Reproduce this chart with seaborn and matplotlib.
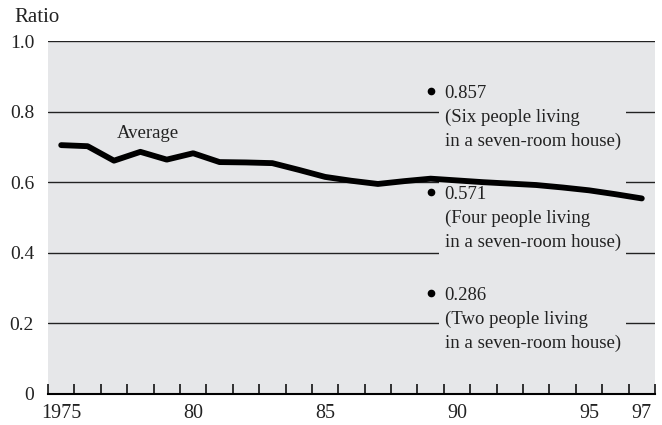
import numpy as np
import pandas as pd
import matplotlib
matplotlib.use("Agg")
import matplotlib.pyplot as plt
import seaborn as sns

# data (value at mid-year)
years = list(range(1975, 1998))
ratio = [0.705, 0.702, 0.661, 0.686, 0.664, 0.682, 0.657, 0.656, 0.654, 0.635,
         0.615, 0.604, 0.595, 0.603, 0.610, 0.605, 0.600, 0.596, 0.592, 0.585,
         0.577, 0.566, 0.554]

tick_years = [1975, 1980, 1985, 1990, 1995, 1997]
tick_labels = ["1975", "80", "85", "90", "95", "97"]

ref_year = 1989
ref_values = [0.857, 0.571, 0.286]
ref_texts = ["0.857\n(Six people living\nin a seven-room house)",
             "0.571\n(Four people living\nin a seven-room house)",
             "0.286\n(Two people living\nin a seven-room house)"]

bg = "#e6e7e9"
txt = "#222222"

sns.set_theme(style="white", rc={"axes.facecolor": bg})
plt.rcParams["font.family"] = ["Liberation Serif", "DejaVu Serif"]

df = pd.DataFrame({"year": years, "ratio": ratio})
df["x"] = df["year"] + 0.5

fig = plt.figure(figsize=(6.62, 4.25), dpi=100)
ax = fig.add_axes([48 / 662, 31 / 425, 607 / 662, 353 / 425])

sns.lineplot(data=df, x="x", y="ratio", color="black", linewidth=4.2,
             solid_capstyle="round", ax=ax, zorder=5)

# reference points with their notes
for v, t in zip(ref_values, ref_texts):
    ax.plot(ref_year + 0.5, v, "o", color="black", markersize=4.5, zorder=6)
    ax.annotate(t, xy=(ref_year + 0.5, v), xytext=(10, 4.5),
                textcoords="offset points", ha="left", va="top",
                fontsize=13.5, linespacing=1.5, color=txt, zorder=4,
                bbox=dict(boxstyle="square,pad=0.3", fc=bg, ec="none"))

ax.text(1978.8, 0.739, "Average", ha="center", va="center", fontsize=13.5,
        color=txt)

ax.set_xlim(1975, 1998)
ax.set_ylim(0, 1.0)

ax.set_yticks([0, 0.2, 0.4, 0.6, 0.8, 1.0])
ax.set_yticklabels(["0", "0.2", "0.4", "0.6", "0.8", "1.0"])
ax.yaxis.grid(True, color=txt, linewidth=1.0)
ax.set_axisbelow(True)

ax.set_xticks([y + 0.5 for y in tick_years])
ax.set_xticklabels(tick_labels)
ax.set_xticks(np.arange(1975, 1999), minor=True)
ax.tick_params(axis="x", which="major", length=0, pad=7, labelsize=14.5,
               labelcolor=txt)
ax.tick_params(axis="x", which="minor", direction="in", length=7,
               width=1.1, color="black", bottom=True)
ax.tick_params(axis="y", length=0, pad=10, labelsize=14,
               labelcolor=txt)

for s in ["top", "left", "right"]:
    ax.spines[s].set_visible(False)
ax.spines["bottom"].set_color("black")
ax.spines["bottom"].set_linewidth(1.5)

ax.set_xlabel("")
ax.set_ylabel("")

fig.text(14 / 662, 1 - 18 / 425, "Ratio", ha="left", va="center",
         fontsize=15, color=txt)

fig.savefig("out.png", dpi=100)
